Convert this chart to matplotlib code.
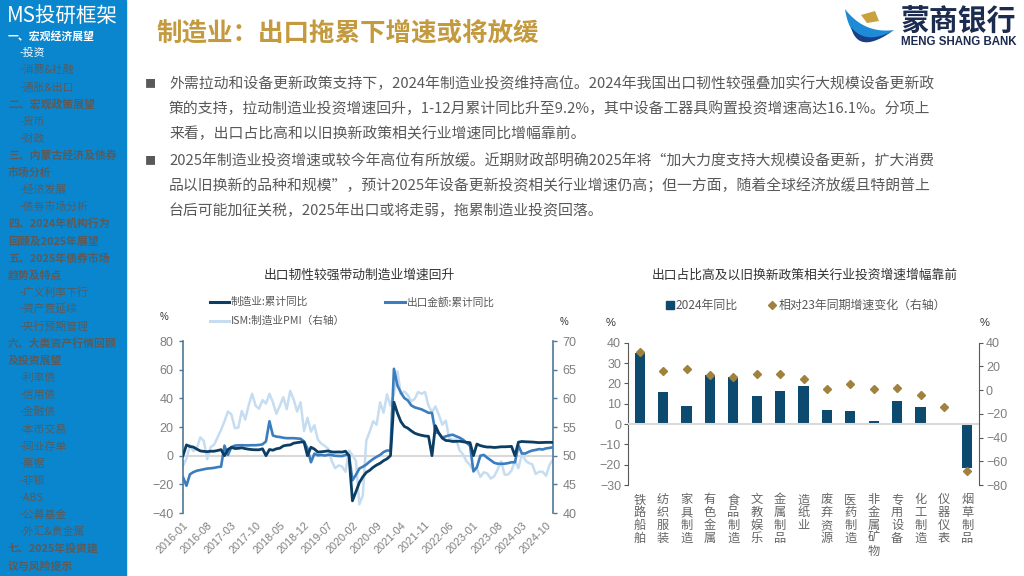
import numpy as np
import matplotlib
matplotlib.use('Agg')
import matplotlib.pyplot as plt
from matplotlib.patches import Rectangle, Polygon

plt.rcParams['font.family'] = ['Noto Sans CJK SC', 'DejaVu Sans']
plt.rcParams['axes.unicode_minus'] = True

# ---------------- data ----------------
month_labels = [f"{y}-{m:02d}" for y in range(2016, 2025) for m in range(1, 13)]
x_tick_labels = ["2016-01", "2016-08", "2017-03", "2017-10", "2018-05", "2018-12",
                 "2019-07", "2020-02", "2020-09", "2021-04", "2021-11", "2022-06",
                 "2023-01", "2023-08", "2024-03", "2024-10"]

mfg_ytd = [0, 7.5, 6.4, 6.0, 4.6, 3.3, 3.0, 2.8, 3.1, 3.1, 3.6, 4.2,
           0, 4.3, 5.8, 5.0, 5.1, 5.5, 4.9, 4.5, 4.2, 4.1, 4.1, 4.8,
           0, 4.3, 3.8, 4.8, 5.2, 6.8, 7.3, 7.5, 8.7, 9.1, 9.5, 9.5,
           0, 5.9, 4.6, 2.5, 2.7, 3.0, 3.3, 2.6, 2.5, 2.6, 2.5, 3.1,
           0, -31.5, -25.2, -18.8, -14.8, -11.7, -10.2, -8.1, -6.5, -5.3, -3.5, -2.2,
           0, 37.3, 29.8, 23.8, 20.4, 19.2, 17.3, 15.7, 14.8, 14.2, 13.7, 13.5,
           0, 20.9, 15.6, 12.2, 10.6, 10.4, 9.9, 10.0, 10.1, 9.7, 9.3, 9.1,
           0, 8.1, 7.0, 6.4, 6.0, 6.0, 5.7, 5.9, 6.2, 6.2, 6.3, 6.5,
           0, 9.4, 9.9, 9.7, 9.6, 9.5, 9.3, 9.1, 9.2, 9.3, 9.3, 9.2]

export_ytd = [-15.0, -21.0, -13.0, -11.5, -10.5, -10.0, -9.5, -9.0, -8.8, -8.5, -8.0, -7.7,
              7.0, 0.5, 6.0, 7.0, 7.2, 7.3, 7.2, 7.2, 7.3, 7.3, 7.5, 7.9,
              10.0, 24.0, 14.1, 13.3, 13.0, 12.5, 12.2, 12.2, 12.2, 12.0, 11.8, 9.9,
              5.0, -4.6, 1.4, 0.2, 0.5, 0.1, 0.6, 0.4, -0.1, -0.2, -0.3, 0.5,
              0.5, -17.2, -13.4, -9.0, -7.7, -6.2, -4.1, -2.3, -0.8, 0.5, 2.5, 3.6,
              3.6, 60.6, 49.0, 44.0, 40.2, 38.6, 35.1, 33.7, 33.0, 32.3, 31.1, 29.9,
              29.9, 16.3, 15.8, 12.5, 13.5, 14.2, 14.6, 13.5, 12.5, 11.1, 9.0, 7.0,
              -11.0, -8.0, 0.0, 0.5, -1.5, -3.2, -5.0, -5.6, -5.7, -5.6, -5.2, -4.6,
              -4.6, 7.1, 1.5, 1.5, 2.7, 3.6, 4.0, 4.6, 4.3, 5.1, 5.4, 5.9]

ism_pmi = [48.2, 49.5, 51.8, 50.8, 51.3, 53.2, 52.6, 49.4, 51.5, 51.9, 53.2, 54.5,
           56.0, 57.7, 57.2, 54.8, 54.9, 57.8, 56.3, 58.8, 60.8, 58.7, 58.2, 59.7,
           59.1, 60.8, 59.3, 57.3, 58.7, 60.2, 58.1, 61.3, 59.8, 57.7, 59.3, 54.3,
           56.6, 54.2, 55.3, 52.8, 52.1, 51.7, 51.2, 49.1, 47.8, 48.3, 48.1, 47.2,
           50.9, 50.1, 49.1, 41.5, 43.1, 52.6, 54.2, 56.0, 55.4, 59.3, 57.5, 60.7,
           58.7, 60.8, 64.7, 60.7, 61.2, 60.6, 59.5, 59.9, 61.1, 60.8, 61.1, 58.7,
           57.6, 58.6, 57.1, 55.4, 56.1, 53.0, 52.8, 52.8, 50.9, 50.2, 49.0, 48.4,
           47.4, 47.7, 46.3, 47.1, 46.9, 46.0, 46.4, 47.6, 49.0, 46.7, 46.7, 47.4,
           49.1, 47.8, 50.3, 49.2, 48.7, 48.5, 46.8, 47.2, 47.2, 46.5, 48.4, 49.3]

industries = ["铁路船舶", "纺织服装", "家具制造", "有色金属", "食品制造", "文教娱乐",
              "金属制品", "造纸业", "废弃资源", "医药制造", "非金属矿物", "专用设备",
              "化工制造", "仪器仪表", "烟草制品"]
yoy_2024 = [34.9, 15.6, 9.1, 24.1, 22.9, 13.6, 16.4, 18.5, 7.0, 6.6, 1.6, 11.5, 8.5, 0.0, -21.4]
chg_vs_23 = [31.9, 16.4, 17.8, 12.4, 11.3, 13.6, 13.3, 9.1, 0.9, 5.1, 0.9, 1.5, -4.1, -14.5, -68.0]

sidebar_items = [
    ("一、宏观经济展望", "wh"), ("-投资", "ws"), ("-消费&社融", "gs"), ("-通胀&出口", "gs"),
    ("二、宏观政策展望", "gh"), ("-货币", "gs"), ("-财政", "gs"),
    ("三、内蒙古经济及债券", "gh"), ("市场分析", "gh"), ("-经济发展", "gs"), ("-债券市场分析", "gs"),
    ("四、2024年机构行为", "gh"), ("回顾及2025年展望", "gh"),
    ("五、2025年债券市场", "gh"), ("趋势及特点", "gh"),
    ("-广义利率下行", "gs"), ("-资产荒延续", "gs"), ("-央行预期管理", "gs"),
    ("六、大类资产行情回顾", "gh"), ("及投资展望", "gh"),
    ("-利率债", "gs"), ("-信用债", "gs"), ("-金融债", "gs"), ("-本币交易", "gs"),
    ("-同业存单", "gs"), ("-票据", "gs"), ("-非银", "gs"), ("-ABS", "gs"),
    ("-公募基金", "gs"), ("-外汇&贵金属", "gs"),
    ("七、2025年投资建", "gh"), ("议与风险提示", "gh"),
]

para_lines = [
    "外需拉动和设备更新政策支持下，2024年制造业投资维持高位。2024年我国出口韧性较强叠加实行大规模设备更新政",
    "策的支持，拉动制造业投资增速回升，1-12月累计同比升至9.2%，其中设备工器具购置投资增速高达16.1%。分项上",
    "来看，出口占比高和以旧换新政策相关行业增速同比增幅靠前。",
    "2025年制造业投资增速或较今年高位有所放缓。近期财政部明确2025年将“加大力度支持大规模设备更新，扩大消费",
    "品以旧换新的品种和规模”，预计2025年设备更新投资相关行业增速仍高；但一方面，随着全球经济放缓且特朗普上",
    "台后可能加征关税，2025年出口或将走弱，拖累制造业投资回落。",
]
bullet_rows = [0, 3]

# ---------------- figure ----------------
W, H = 1024, 576
fig = plt.figure(figsize=(W / 100, H / 100), dpi=100)
bg = fig.add_axes([0, 0, 1, 1])
bg.set_xlim(0, W)
bg.set_ylim(H, 0)
bg.axis('off')

# sidebar
SIDE_BLUE = '#0a86ce'
GRAY_SIDE = '#5a5a5a'
bg.add_patch(Rectangle((0, 0), 126, H, color=SIDE_BLUE, zorder=0))
bg.text(7, 16, "MS投研框架", color='white', fontsize=14.8, va='center', ha='left')
for i, (txt, st) in enumerate(sidebar_items):
    y = 36 + 17.1 * i
    color = 'white' if st[0] == 'w' else GRAY_SIDE
    if st[1] == 'h':
        bg.text(8, y, txt, color=color, fontsize=7.8, fontweight='bold', va='center', ha='left')
    else:
        bg.text(20, y, txt, color=color, fontsize=7.8, va='center', ha='left')

# title
bg.text(156, 33, "制造业：出口拖累下增速或将放缓", color='#c39a3e', fontsize=18.4,
        fontweight='bold', va='center', ha='left')

# logo
def bez(p0, c, p2, n=40):
    t = np.linspace(0, 1, n)[:, None]
    p0, c, p2 = map(np.array, (p0, c, p2))
    return (1 - t) ** 2 * p0 + 2 * (1 - t) * t * c + t ** 2 * p2

outer = bez((845, 9), (852, 56), (894, 30))
inner = bez((894, 30), (864, 34), (845, 9))
bg.add_patch(Polygon(np.vstack([outer, inner]), closed=True, color='#1d8bd6', lw=0))
outer2 = bez((851, 27), (858, 56), (894, 30))
inner2 = bez((894, 30), (866, 46), (851, 27))
bg.add_patch(Polygon(np.vstack([outer2, inner2]), closed=True, color='#1b3f86', lw=0))
bg.add_patch(Polygon([(861, 15), (875, 11), (879, 21), (867, 23)], closed=True, color='#c9a13f', lw=0))
bg.text(901, 22, "蒙商银行", color='#1c2b50', fontsize=20.8, fontweight='bold', va='center', ha='left')
bg.text(901, 42, "MENG SHANG BANK", color='#1c2b50', fontsize=8.3, fontweight='bold',
        va='center', ha='left', family='Liberation Sans')

# paragraph
TXT = '#595959'
para_y = [84, 109, 134, 161, 186, 211]
for i, line in enumerate(para_lines):
    bg.text(169, para_y[i], line, color=TXT, fontsize=10.7, va='center', ha='left')
for r in bullet_rows:
    bg.text(150, para_y[r], "■", color='#595959', fontsize=8, va='center', ha='center')

# ---------------- left chart ----------------
NAVY = '#0c3d63'
MBLUE = '#3b7dbf'
LBLUE = '#c6ddf1'
SP_L = '#4f7896'
TICKC = '#7f7f7f'

bg.text(359, 275, "出口韧性较强带动制造业增速回升", color='#333333', fontsize=9.2, va='center', ha='center')
bg.plot([210, 229], [302, 302], color=NAVY, lw=2.2)
bg.text(231, 302, "制造业:累计同比", color=TXT, fontsize=7.7, va='center', ha='left')
bg.plot([385, 405], [302, 302], color=MBLUE, lw=2.2)
bg.text(407, 302, "出口金额:累计同比", color=TXT, fontsize=7.7, va='center', ha='left')
bg.plot([210, 229], [321, 321], color=LBLUE, lw=2.2)
bg.text(231, 321, "ISM:制造业PMI（右轴）", color=TXT, fontsize=7.7, va='center', ha='left')
bg.text(164, 317, "%", color='#333333', fontsize=7, va='center', ha='center', family='Liberation Sans')
bg.text(564, 322, "%", color='#333333', fontsize=7, va='center', ha='center', family='Liberation Sans')

x = np.arange(len(month_labels))
ax1 = fig.add_axes([183 / W, 1 - 513 / H, 370 / W, 172 / H])
ax1r = ax1.twinx()
ax1.set_zorder(3)
ax1.patch.set_visible(False)
ax1r.set_zorder(2)
ax1r.patch.set_visible(False)

ax1r.axhline(50, color='#d9d9d9', lw=1.5, zorder=0)
ax1r.plot(x, ism_pmi, color=LBLUE, lw=1.8, zorder=2)
ax1.plot(x, export_ytd, color=MBLUE, lw=1.9, zorder=3)
ax1.plot(x, mfg_ytd, color=NAVY, lw=2.0, zorder=4)

ax1.set_xlim(0, len(month_labels) - 1)
ax1.set_ylim(-40, 80)
ax1.set_yticks(np.arange(-40, 81, 20))
ax1r.set_ylim(40, 70)
ax1r.set_yticks(np.arange(40, 71, 5))
ax1.set_xticks([month_labels.index(s) for s in x_tick_labels])
ax1.set_xticklabels(x_tick_labels, rotation=45, ha='right', rotation_mode='anchor')

for a in (ax1, ax1r):
    for s in a.spines.values():
        s.set_visible(False)
ax1.spines['left'].set_visible(True)
ax1.spines['left'].set_color(SP_L)
ax1.spines['left'].set_linewidth(1.2)
ax1r.spines['right'].set_visible(True)
ax1r.spines['right'].set_color(SP_L)
ax1r.spines['right'].set_linewidth(1.2)
ax1.tick_params(axis='y', direction='out', length=3, width=1, color=SP_L, labelcolor=TICKC,
                labelsize=9, pad=4)
ax1r.tick_params(axis='y', direction='out', length=3, width=1, color=SP_L, labelcolor=TICKC,
                 labelsize=9, pad=4)
ax1.tick_params(axis='x', length=0, labelcolor=TICKC, labelsize=7.8, pad=5)
for lab in ax1.get_yticklabels() + ax1r.get_yticklabels() + ax1.get_xticklabels():
    lab.set_family('Liberation Sans')

# ---------------- right chart ----------------
BAR = '#0d4a70'
GOLD = '#a0813f'
SP_R = '#595959'
bg.text(805, 275, "出口占比高及以旧换新政策相关行业投资增速增幅靠前", color='#333333', fontsize=9.2,
        va='center', ha='center')
bg.plot([670], [305], marker='s', ms=5.5, color=BAR, ls='none')
bg.text(676, 305, "2024年同比", color=TXT, fontsize=8.6, va='center', ha='left')
bg.plot([772], [305], marker='D', ms=4, color=GOLD, ls='none')
bg.text(779, 305, "相对23年同期增速变化（右轴）", color=TXT, fontsize=8.6, va='center', ha='left')
bg.text(611, 323, "%", color='#333333', fontsize=8, va='center', ha='center', family='Liberation Sans')
bg.text(985, 323, "%", color='#333333', fontsize=8, va='center', ha='center', family='Liberation Sans')

xi = np.arange(len(industries))
ax2 = fig.add_axes([628 / W, 1 - 485 / H, 351 / W, 142.3 / H])
ax2r = ax2.twinx()
ax2.bar(xi, yoy_2024, width=0.43, color=BAR, zorder=2)
ax2.axhline(0, color='#d9d9d9', lw=1.5, zorder=3)
ax2r.plot(xi, chg_vs_23, marker='D', ms=4.2, color=GOLD, ls='none', zorder=4)
ax2.set_xlim(-0.5, len(industries) - 0.5)
ax2.set_ylim(-30, 40)
ax2.set_yticks(np.arange(-30, 41, 10))
ax2r.set_ylim(-80, 40)
ax2r.set_yticks(np.arange(-80, 41, 20))
ax2.set_xticks(xi)
ax2.set_xticklabels(['\n'.join(c) for c in industries], linespacing=0.98, va='top')
for a in (ax2, ax2r):
    for s in a.spines.values():
        s.set_visible(False)
ax2.spines['left'].set_visible(True)
ax2.spines['left'].set_color(SP_R)
ax2r.spines['right'].set_visible(True)
ax2r.spines['right'].set_color(SP_R)
ax2.tick_params(axis='y', direction='out', length=3, color=SP_R, labelcolor=TICKC, labelsize=9, pad=2)
ax2r.tick_params(axis='y', direction='out', length=3, color=SP_R, labelcolor=TICKC, labelsize=9, pad=2)
ax2.tick_params(axis='x', length=0, labelcolor='#666666', labelsize=8.8, pad=6)
for lab in ax2.get_yticklabels() + ax2r.get_yticklabels():
    lab.set_family('Liberation Sans')

fig.savefig('out.png', dpi=100)
